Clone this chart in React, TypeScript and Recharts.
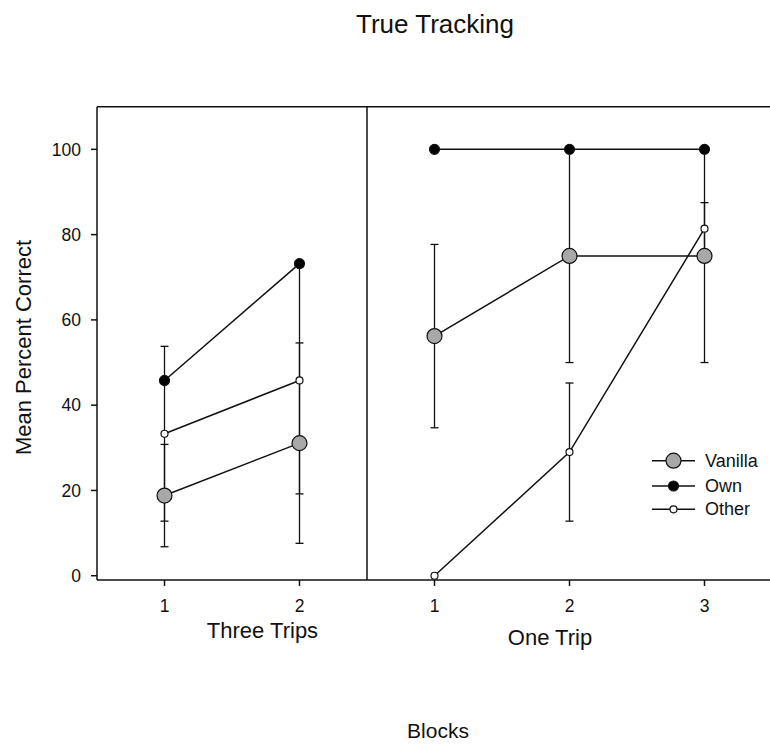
import { LineChart, Line, XAxis, YAxis, ErrorBar, ReferenceLine } from "recharts";

// Three Trips panel (blocks 1-2)
const threeBlocks = [1, 2];
const threeVanilla = [18.8, 31.1];
const threeVanillaErr = [12, 23.5];
const threeOwn = [45.8, 73.2];
const threeOther = [33.3, 45.8];
const threeOtherErr = [20.5, 26.6];

// One Trip panel (blocks 1-3)
const oneBlocks = [1, 2, 3];
const oneVanilla = [56.2, 75, 75];
const oneVanillaErr = [21.5, 25, 25];
const oneOwn = [100, 100, 100];
const oneOther = [0, 29, 81.4];
const oneOtherErr = [null, 16.2, 6.1];

const yTicks = [0, 20, 40, 60, 80, 100];

const threeData = threeBlocks.map((b, i) => ({
  block: b,
  vanilla: threeVanilla[i],
  vanillaErr: threeVanillaErr[i],
  own: threeOwn[i],
  other: threeOther[i],
  otherErr: threeOtherErr[i],
}));

const oneData = oneBlocks.map((b, i) => ({
  block: b,
  vanilla: oneVanilla[i],
  vanillaErr: oneVanillaErr[i],
  own: oneOwn[i],
  other: oneOther[i],
  otherErr: oneOtherErr[i],
}));

const FONT = "'Liberation Sans', Arial, sans-serif";
const INK = "#111";
const TICK_FS = 17.5;

// draw order matters: Own dots sit on top of the other error bars
const SERIES = [
  { key: "vanilla", err: "vanillaErr", name: "Vanilla", r: 7.5, fill: "#a8a8a8" },
  { key: "other", err: "otherErr", name: "Other", r: 3.5, fill: "#ffffff" },
  { key: "own", err: null, name: "Own", r: 5, fill: "#000000" },
];
const LEGEND_ORDER = ["vanilla", "own", "other"];

const Y_DOMAIN: [number, number] = [-1, 110];
const PLOT_TOP = 106.7;
const X_AXIS_H = 40;
const CHART_H = 620;

// tick labels drawn by hand so the font size sticks
function XTick({ x, y, payload }: any) {
  return (
    <text x={x} y={y} dy="0.71em" textAnchor="middle" fontSize={TICK_FS} fill={INK} fontFamily={FONT}>
      {payload.value}
    </text>
  );
}

function YTick({ x, y, payload }: any) {
  return (
    <text x={x} y={y} dy="0.355em" textAnchor="end" fontSize={TICK_FS} fill={INK} fontFamily={FONT}>
      {payload.value}
    </text>
  );
}

function renderSeries() {
  return SERIES.map((s) => (
    <Line
      key={s.key}
      dataKey={s.key}
      stroke={INK}
      strokeWidth={1.5}
      dot={{ r: s.r, fill: s.fill, stroke: INK, strokeWidth: 1.2 }}
      activeDot={false}
      isAnimationActive={false}
    >
      {s.err && (
        <ErrorBar
          dataKey={s.err}
          direction="y"
          width={4}
          stroke={INK}
          strokeWidth={1.3}
          isAnimationActive={false}
        />
      )}
    </Line>
  ));
}

export default function App() {
  return (
    <div
      style={{
        position: "absolute",
        left: 0,
        top: 0,
        width: 770,
        height: 744,
        overflow: "hidden",
        background: "#fff",
        fontFamily: FONT,
      }}
    >
      {/* left panel: Three Trips */}
      <div style={{ position: "absolute", left: 0, top: 0 }}>
        <LineChart
          width={372}
          height={CHART_H}
          data={threeData}
          margin={{ top: PLOT_TOP, right: 5, left: 0, bottom: 0 }}
        >
          <XAxis
            type="number"
            dataKey="block"
            domain={[0.5, 2.5]}
            ticks={[1, 2]}
            height={X_AXIS_H}
            tickSize={6}
            tickMargin={14}
            tick={<XTick />}
            stroke={INK}
            strokeWidth={1.5}
          />
          <YAxis
            type="number"
            domain={Y_DOMAIN}
            ticks={yTicks}
            width={97}
            tickSize={6}
            tickMargin={10}
            tick={<YTick />}
            stroke={INK}
            strokeWidth={1.5}
          />
          <ReferenceLine y={110} stroke={INK} strokeWidth={1.5} />
          <ReferenceLine x={2.5} stroke={INK} strokeWidth={1.5} />
          {renderSeries()}
        </LineChart>
      </div>

      {/* right panel: One Trip */}
      <div style={{ position: "absolute", left: 362, top: 0 }}>
        <LineChart
          width={410}
          height={CHART_H}
          data={oneData}
          margin={{ top: PLOT_TOP, right: 0, left: 5, bottom: 0 }}
        >
          <XAxis
            type="number"
            dataKey="block"
            domain={[0.5, 3.5]}
            ticks={[1, 2, 3]}
            height={X_AXIS_H}
            tickSize={6}
            tickMargin={14}
            tick={<XTick />}
            stroke={INK}
            strokeWidth={1.5}
          />
          <YAxis type="number" domain={Y_DOMAIN} ticks={yTicks} hide />
          <ReferenceLine y={110} stroke={INK} strokeWidth={1.5} />
          {renderSeries()}
        </LineChart>
      </div>

      {/* titles, axis captions and legend */}
      <svg
        width={770}
        height={744}
        style={{ position: "absolute", left: 0, top: 0, pointerEvents: "none" }}
        fontFamily={FONT}
      >
        <text x={435} y={32.5} textAnchor="middle" fontSize={26} fill={INK}>
          True Tracking
        </text>
        <text
          x={23}
          y={347.5}
          transform="rotate(-90 23 347.5)"
          textAnchor="middle"
          dominantBaseline="central"
          fontSize={22}
          fill={INK}
        >
          Mean Percent Correct
        </text>
        <text x={262.5} y={638} textAnchor="middle" fontSize={22} fill={INK}>
          Three Trips
        </text>
        <text x={550} y={645} textAnchor="middle" fontSize={22} fill={INK}>
          One Trip
        </text>
        <text x={438} y={738} textAnchor="middle" fontSize={21} fill={INK}>
          Blocks
        </text>

        {LEGEND_ORDER.map((k, i) => {
          const s = SERIES.find((d) => d.key === k)!;
          const y = [460.7, 486, 509.3][i];
          return (
            <g key={k}>
              <line x1={652} y1={y} x2={695} y2={y} stroke={INK} strokeWidth={1.5} />
              <circle cx={673.5} cy={y} r={s.r} fill={s.fill} stroke={INK} strokeWidth={1.2} />
              <text x={705} y={y} dominantBaseline="central" fontSize={18} fill={INK}>
                {s.name}
              </text>
            </g>
          );
        })}
      </svg>
    </div>
  );
}
